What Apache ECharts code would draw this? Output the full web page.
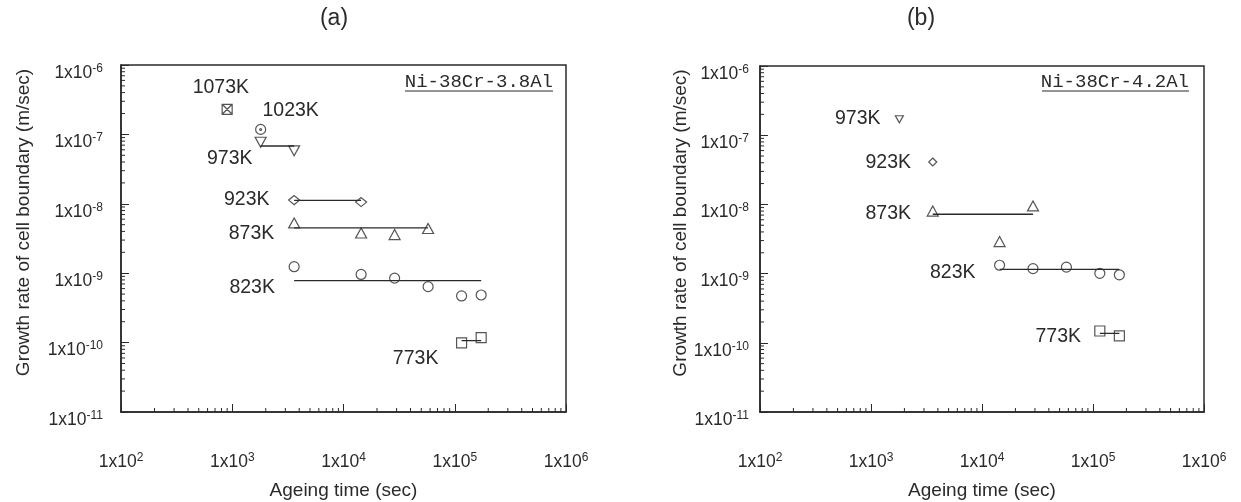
<!DOCTYPE html>
<html>
<head>
<meta charset="utf-8">
<script src="https://cdn.jsdelivr.net/npm/echarts@6/dist/echarts.min.js"></script>
<style>
html,body{margin:0;padding:0;background:#fff;}
#chart{width:1241px;height:502px;}
</style>
</head>
<body>
<div id="chart"></div>
<script>
// ---------- DATA ----------
// Panel (a): Ni-38Cr-3.8Al   points are [ageing time (sec), growth rate (m/sec)]
const a1073K = [[900, 2.3e-7]];
const a1023K = [[1800, 1.18e-7]];
const a973K  = [[1800, 7.7e-8], [3600, 5.8e-8]];
const a923K  = [[3600, 1.13e-8], [14400, 1.06e-8]];
const a873K  = [[3600, 5.3e-9], [14400, 3.8e-9], [28800, 3.6e-9], [57600, 4.4e-9]];
const a823K  = [[3600, 1.24e-9], [14400, 9.6e-10], [28800, 8.5e-10], [57600, 6.4e-10], [115200, 4.7e-10], [172800, 4.85e-10]];
const a773K  = [[115200, 9.9e-11], [172800, 1.18e-10]];
// fitted (mean) lines, panel (a)
const fitA973K = [[1800, 6.8e-8], [3600, 6.8e-8]];
const fitA923K = [[3600, 1.12e-8], [14400, 1.12e-8]];
const fitA873K = [[3600, 4.5e-9], [57600, 4.5e-9]];
const fitA823K = [[3600, 7.8e-10], [172800, 7.8e-10]];
const fitA773K = [[115200, 1.07e-10], [172800, 1.07e-10]];
// temperature labels, panel (a): [text, time, rate]
const labelsA = [['1073K', 790, 4.7e-7], ['1023K', 3350, 2.17e-7], ['973K', 950, 4.43e-8],
                 ['923K', 1350, 1.16e-8], ['873K', 1490, 3.76e-9], ['823K', 1510, 6.27e-10], ['773K', 44500, 5.94e-11]];

// Panel (b): Ni-38Cr-4.2Al
const b973K = [[1800, 1.7e-7]];
const b923K = [[3600, 4.1e-8]];
const b873K = [[3600, 8.0e-9], [14400, 2.9e-9], [28800, 9.5e-9]];
const b823K = [[14400, 1.32e-9], [28800, 1.18e-9], [57600, 1.24e-9], [115200, 1.01e-9], [172800, 9.6e-10]];
const b773K = [[115200, 1.48e-10], [172800, 1.26e-10]];
const fitB873K = [[3600, 7.2e-9], [28800, 7.2e-9]];
const fitB823K = [[14400, 1.15e-9], [172800, 1.15e-9]];
const fitB773K = [[115200, 1.37e-10], [172800, 1.37e-10]];
const labelsB = [['973K', 760, 1.75e-7], ['923K', 1430, 4.01e-8], ['873K', 1430, 7.26e-9],
                 ['823K', 5450, 1.03e-9], ['773K', 48600, 1.22e-10]];

// axes
const X_MIN = 1e2, X_MAX = 1e6, Y_MIN = 1e-11, Y_MAX = 1e-6;
const xTickExps = [2, 3, 4, 5, 6];
const yTickExps = [-11, -10, -9, -8, -7, -6];
const panelTitles = ['(a)', '(b)'];
const alloyNames = ['Ni-38Cr-3.8Al', 'Ni-38Cr-4.2Al'];
const xName = 'Ageing time (sec)';
const yName = 'Growth rate of cell boundary (m/sec)';

// minor tick values (2..9 x 10^k)
const minorX = [], minorY = [];
for (let k = 2; k < 6; k++) for (let m = 2; m <= 9; m++) minorX.push(m * Math.pow(10, k));
for (let k = -11; k < -6; k++) for (let m = 2; m <= 9; m++) minorY.push(m * Math.pow(10, k));

// ---------- STYLE ----------
const INK = '#2a2a2a';
const FONT = 'Liberation Sans, Arial, sans-serif';
const SYM_BOXX = 'path://M0,0L10,0L10,10L0,10Z M0,0L10,10 M10,0L0,10';
const SYM_CDOT = 'path://M0,5A5,5,0,1,1,10,5A5,5,0,1,1,0,5Z M4.1,5A0.9,0.9,0,1,1,5.9,5A0.9,0.9,0,1,1,4.1,5Z';

const chart = echarts.init(document.getElementById('chart'), null, {renderer: 'canvas'});

const grids = [
  {left: 121, top: 65, width: 445, height: 347},
  {left: 760, top: 66, width: 444, height: 346}
];

function expOf(v) { return Math.round(Math.log10(v)); }
const richLbl = {
  b: {fontSize: 17.5, fontFamily: FONT, color: INK, lineHeight: 18},
  s: {fontSize: 12, fontFamily: FONT, color: INK, lineHeight: 12, padding: [0, 0, 9, 0]}
};

function xAxis(i) {
  return {
    type: 'log', logBase: 10, gridIndex: i, min: X_MIN, max: X_MAX,
    name: xName, nameLocation: 'middle', nameGap: 69,
    nameTextStyle: {fontSize: 19, fontFamily: FONT, color: INK},
    axisLine: {show: true, lineStyle: {color: INK, width: 1.5}},
    axisTick: {show: true, inside: true, length: 8, lineStyle: {color: INK, width: 1}},
    axisLabel: {margin: 41, formatter: v => '{b|1x10}{s|' + expOf(v) + '}', rich: richLbl},
    splitLine: {show: false}
  };
}
function yAxis(i) {
  return {
    type: 'log', logBase: 10, gridIndex: i, min: Y_MIN, max: Y_MAX,
    name: yName, nameLocation: 'middle', nameGap: i === 0 ? 88 : 59, nameRotate: 90,
    nameTextStyle: {fontSize: 19, fontFamily: FONT, color: INK, padding: [0, 0, 0, 32]},
    axisLine: {show: true, lineStyle: {color: INK, width: 1.5}},
    axisTick: {show: true, inside: true, length: 8, lineStyle: {color: INK, width: 1}},
    axisLabel: {margin: i === 0 ? 18 : 11, padding: [16, 0, 0, 0],
                formatter: v => '{b|1x10}{s|' + expOf(v) + '}', rich: richLbl},
    splitLine: {show: false}
  };
}

function pts(data, idx, symbol, size, rotate) {
  return {
    type: 'scatter', xAxisIndex: idx, yAxisIndex: idx, data: data,
    symbol: symbol, symbolSize: size, symbolRotate: rotate || 0,
    itemStyle: {color: 'rgba(0,0,0,0)', borderColor: INK, borderWidth: 1.2},
    z: 3, silent: true
  };
}
function fit(data, idx) {
  return {
    type: 'line', xAxisIndex: idx, yAxisIndex: idx, data: data, symbol: 'none',
    lineStyle: {color: INK, width: 1.3}, z: 2, silent: true
  };
}
function minorTicks(idx, axis) {
  const vals = axis === 'x' ? minorX : minorY;
  return {
    type: 'custom', xAxisIndex: idx, yAxisIndex: idx, silent: true, clip: false,
    data: vals.map(v => axis === 'x' ? [v, Y_MIN] : [X_MIN, v]),
    renderItem: function (params, api) {
      const p = api.coord([api.value(0), api.value(1)]);
      const shape = axis === 'x'
        ? {x1: p[0], y1: p[1], x2: p[0], y2: p[1] - 4}
        : {x1: p[0], y1: p[1], x2: p[0] + 4, y2: p[1]};
      return {type: 'line', shape: shape, style: {stroke: INK, lineWidth: 1}};
    }
  };
}
function tempLabels(idx, labels) {
  return {
    type: 'custom', xAxisIndex: idx, yAxisIndex: idx, silent: true, clip: false,
    data: labels.map(l => [l[1], l[2]]),
    renderItem: function (params, api) {
      const p = api.coord([api.value(0), api.value(1)]);
      return {type: 'text', x: p[0], y: p[1],
        style: {text: labels[params.dataIndex][0], fill: INK, fontSize: 19.5, fontFamily: FONT,
                align: 'center', verticalAlign: 'middle'}};
    }
  };
}

const series = [
  // panel a
  minorTicks(0, 'x'), minorTicks(0, 'y'),
  fit(fitA973K, 0), fit(fitA923K, 0), fit(fitA873K, 0), fit(fitA823K, 0), fit(fitA773K, 0),
  pts(a1073K, 0, SYM_BOXX, 10),
  pts(a1023K, 0, SYM_CDOT, 10),
  pts(a973K, 0, 'triangle', [11, 10], 180),
  pts(a923K, 0, 'diamond', [11, 9]),
  pts(a873K, 0, 'triangle', [11, 10]),
  pts(a823K, 0, 'circle', 10),
  pts(a773K, 0, 'rect', 10),
  tempLabels(0, labelsA),
  // panel b
  minorTicks(1, 'x'), minorTicks(1, 'y'),
  fit(fitB873K, 1), fit(fitB823K, 1), fit(fitB773K, 1),
  pts(b973K, 1, 'triangle', [8, 7], 180),
  pts(b923K, 1, 'diamond', [8, 8]),
  pts(b873K, 1, 'triangle', [11, 10]),
  pts(b823K, 1, 'circle', 10),
  pts(b773K, 1, 'rect', 10),
  tempLabels(1, labelsB)
];

const graphic = [
  {type: 'text', x: 334, y: 19, style: {text: panelTitles[0], fill: INK, fontSize: 23, fontFamily: FONT, align: 'center', verticalAlign: 'middle'}},
  {type: 'text', x: 921, y: 19, style: {text: panelTitles[1], fill: INK, fontSize: 23, fontFamily: FONT, align: 'center', verticalAlign: 'middle'}},
  {type: 'text', x: 553, y: 82, style: {text: alloyNames[0], fill: INK, fontSize: 19, fontFamily: 'Liberation Mono, monospace', align: 'right', verticalAlign: 'middle'}},
  {type: 'line', shape: {x1: 405, y1: 91, x2: 553, y2: 91}, style: {stroke: INK, lineWidth: 1.2}},
  {type: 'text', x: 1189, y: 82, style: {text: alloyNames[1], fill: INK, fontSize: 19, fontFamily: 'Liberation Mono, monospace', align: 'right', verticalAlign: 'middle'}},
  {type: 'line', shape: {x1: 1042, y1: 91, x2: 1189, y2: 91}, style: {stroke: INK, lineWidth: 1.2}}
];

chart.setOption({
  backgroundColor: '#fff',
  animation: false,
  grid: grids.map(g => Object.assign({show: true, borderColor: INK, borderWidth: 1.5, backgroundColor: 'transparent',
                                      containLabel: false, outerBoundsMode: 'none'}, g)),
  xAxis: [xAxis(0), xAxis(1)],
  yAxis: [yAxis(0), yAxis(1)],
  series: series,
  graphic: graphic
});
</script>
</body>
</html>
